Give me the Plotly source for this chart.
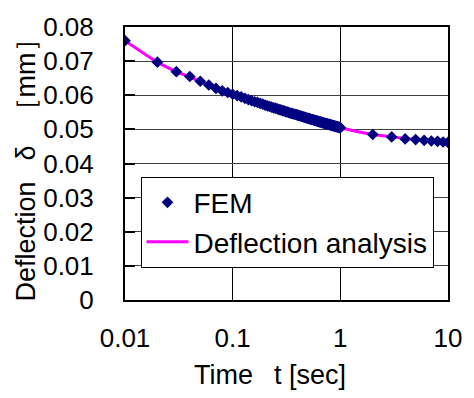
import plotly.graph_objects as go

# FEM sample times [sec] and computed deflections [mm]
fem_t = [0.01, 0.02, 0.03, 0.04, 0.05, 0.06, 0.07, 0.08, 0.09,
         0.10, 0.11, 0.12, 0.13, 0.14, 0.15, 0.16, 0.17, 0.18, 0.19,
         0.20, 0.21, 0.22, 0.23, 0.24, 0.25, 0.26, 0.27, 0.28, 0.29,
         0.30, 0.31, 0.32, 0.33, 0.34, 0.35, 0.36, 0.37, 0.38, 0.39,
         0.40, 0.41, 0.42, 0.43, 0.44, 0.45, 0.46, 0.47, 0.48, 0.49,
         0.50, 0.51, 0.52, 0.53, 0.54, 0.55, 0.56, 0.57, 0.58, 0.59,
         0.60, 0.61, 0.62, 0.63, 0.64, 0.65, 0.66, 0.67, 0.68, 0.69,
         0.70, 0.71, 0.72, 0.73, 0.74, 0.75, 0.76, 0.77, 0.78, 0.79,
         0.80, 0.81, 0.82, 0.83, 0.84, 0.85, 0.86, 0.87, 0.88, 0.89,
         0.90, 0.91, 0.92, 0.93, 0.94, 0.95, 0.96, 0.97, 0.98, 0.99,
         1.0, 2.0, 3.0, 4.0, 5.0, 6.0, 7.0, 8.0, 9.0, 10.0]
fem_d = [0.0760, 0.0697, 0.0669, 0.0655, 0.0641, 0.0630, 0.0620, 0.0613, 0.0608,
         0.0603, 0.0599, 0.0595, 0.0591, 0.0587, 0.0584, 0.0581, 0.0579, 0.0576, 0.0574,
         0.0571, 0.0569, 0.0567, 0.0565, 0.0563, 0.0562, 0.0560, 0.0558, 0.0557, 0.0555,
         0.0554, 0.0552, 0.0551, 0.0550, 0.0548, 0.0547, 0.0546, 0.0545, 0.0544, 0.0543,
         0.0542, 0.0541, 0.0540, 0.0539, 0.0538, 0.0537, 0.0536, 0.0535, 0.0534, 0.0533,
         0.0532, 0.0532, 0.0531, 0.0530, 0.0529, 0.0529, 0.0528, 0.0527, 0.0526, 0.0526,
         0.0525, 0.0524, 0.0524, 0.0523, 0.0522, 0.0522, 0.0521, 0.0521, 0.0520, 0.0519,
         0.0519, 0.0518, 0.0518, 0.0517, 0.0517, 0.0516, 0.0516, 0.0515, 0.0515, 0.0514,
         0.0514, 0.0513, 0.0513, 0.0512, 0.0512, 0.0511, 0.0511, 0.0510, 0.0510, 0.0509,
         0.0509, 0.0509, 0.0508, 0.0508, 0.0507, 0.0507, 0.0507, 0.0506, 0.0506, 0.0505,
         0.0505, 0.0485, 0.0478, 0.0472, 0.0470, 0.0468, 0.0466, 0.0465, 0.0463, 0.0462]

# Analytical deflection curve
ana_t = [0.01, 0.02, 0.03, 0.05, 0.07, 0.1, 0.2, 0.3, 0.5, 0.7, 1.0,
         2.0, 3.0, 5.0, 7.0, 10.0]
ana_d = [0.0760, 0.0697, 0.0669, 0.0641, 0.0620, 0.0603, 0.0571, 0.0554, 0.0532,
         0.0519, 0.0505, 0.0485, 0.0478, 0.0470, 0.0466, 0.0462]

x_ticks = [0.01, 0.1, 1, 10]
x_tick_text = ["0.01", "0.1", "1", "10"]
y_ticks = [0, 0.01, 0.02, 0.03, 0.04, 0.05, 0.06, 0.07, 0.08]
y_tick_text = ["0", "0.01", "0.02", "0.03", "0.04", "0.05", "0.06", "0.07", "0.08"]

FONT = "Liberation Sans, Arial, sans-serif"

fig = go.Figure()
fig.add_trace(go.Scatter(
    x=ana_t, y=ana_d, mode="lines", name="Deflection analysis",
    line=dict(color="#FF00FF", width=3, shape="spline", smoothing=0.6),
))
fig.add_trace(go.Scatter(
    x=fem_t, y=fem_d, mode="markers", name="FEM",
    marker=dict(symbol="diamond", size=9, color="#000080"),
))

fig.update_layout(
    width=474, height=398,
    margin=dict(l=125, r=16, t=15, b=98),
    paper_bgcolor="white", plot_bgcolor="white",
    font=dict(family=FONT, size=26, color="black"),
    showlegend=True,
    legend=dict(
        x=0.048, y=0.452, xanchor="left", yanchor="top",
        bgcolor="white", bordercolor="black", borderwidth=1,
        font=dict(size=28), traceorder="reversed",
        itemwidth=42, tracegroupgap=0,
    ),
    xaxis=dict(
        type="log", range=[-2, 1],
        tickvals=x_ticks, ticktext=x_tick_text,
        showgrid=True, gridcolor="black", gridwidth=1,
        showline=True, linecolor="black", linewidth=2, mirror=True,
        ticks="", ticklabelstandoff=14,
        zeroline=False,
    ),
    yaxis=dict(
        range=[0, 0.08], tickvals=y_ticks, ticktext=y_tick_text,
        showgrid=True, gridcolor="#404040", gridwidth=1,
        showline=True, linecolor="black", linewidth=2, mirror=True,
        ticks="inside", ticklen=10, tickwidth=2, tickcolor="black",
        ticklabelstandoff=24,
        title=dict(text="Deflection\u2002 δ\u2002 ［mm］", font=dict(size=27), standoff=0),
        zeroline=False,
    ),
    annotations=[dict(
        text="Time\u2002 t [sec]", xref="paper", yref="paper",
        x=0.449, y=-0.273, xanchor="center", yanchor="middle",
        showarrow=False, font=dict(size=27),
    )],
)

fig.write_html("out.html")
